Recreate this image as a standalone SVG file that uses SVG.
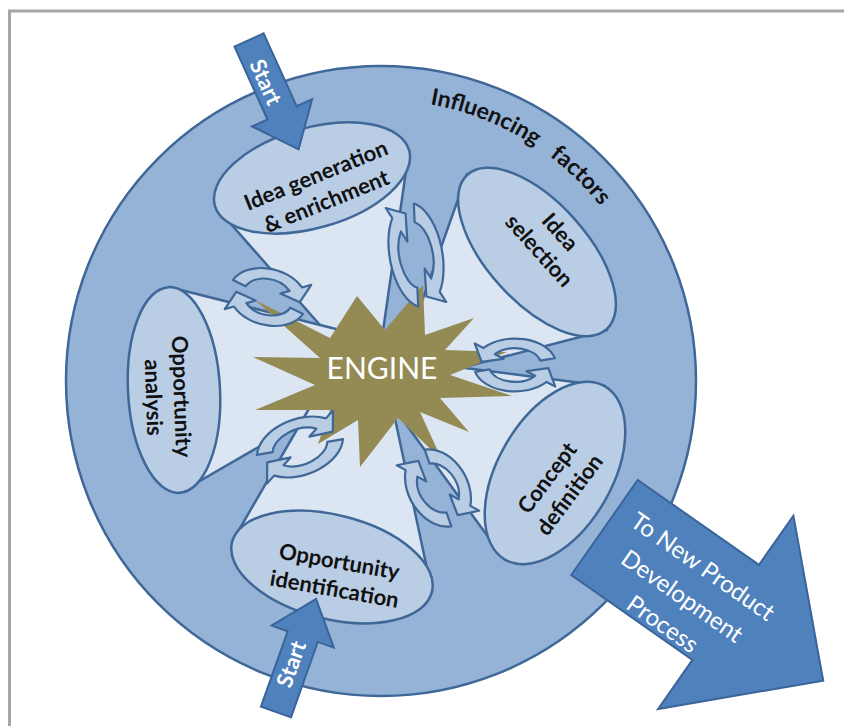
<svg xmlns="http://www.w3.org/2000/svg" xmlns:xlink="http://www.w3.org/1999/xlink" width="844" height="726" viewBox="0 0 844 726">
<style>
.cone{fill:#dce6f2;stroke:#3f6898;stroke-width:2.5;stroke-linejoin:round}
.face{fill:#b9cde5;stroke:#3f6898;stroke-width:2.5}
.lbl{font-family:Lato,"Open Sans","Liberation Sans",sans-serif;font-weight:bold;font-size:22px;fill:#111;text-anchor:middle}
.wt{font-family:Lato,"Open Sans","Liberation Sans",sans-serif;fill:#fff;text-anchor:middle}
.blk{fill:#4f81bd;stroke:#3a649a;stroke-width:2;stroke-linejoin:miter}
.ring{fill:#b9cde5;stroke:#3f6898;stroke-width:2.2;stroke-linejoin:round}
</style>
<defs>
<g id="ca">
<path class="ring" vector-effect="non-scaling-stroke" d="M-31.9,-8.5 A33,33 0 0 1 25.3,-21.2 L32.2,-27 L26.7,-3.8 L9.2,-7.7 L16.1,-13.5 A21,21 0 0 0 -20.3,-5.4 Z"/>
<path class="ring" vector-effect="non-scaling-stroke" transform="rotate(180)" d="M-31.9,-8.5 A33,33 0 0 1 25.3,-21.2 L32.2,-27 L26.7,-3.8 L9.2,-7.7 L16.1,-13.5 A21,21 0 0 0 -20.3,-5.4 Z"/>
</g>
<path id="arcText" d="M332.4,104.3 A280,280 0 0 1 656.7,331.4"/>
</defs>
<rect width="844" height="726" fill="#fff"/>
<g id="frame" stroke="#a6a6a6" stroke-width="3" fill="none">
<line x1="8" y1="11" x2="844" y2="11"/>
<line x1="9.5" y1="10" x2="9.5" y2="726"/>
</g>
<g id="influencing-factors">
<circle cx="381" cy="381" r="315" fill="#95b3d7" stroke="#3f6898" stroke-width="2.5"/>
<text class="lbl" style="text-anchor:start;font-size:23px" word-spacing="12"><textPath xlink:href="#arcText" href="#arcText" startOffset="98">Influencing factors</textPath></text>
</g>
<g id="cones">
<path class="cone" d="M215,206 L342,350 Q362,356 382,338 L409,150 Z"/>
<path class="cone" d="M467,174 L410,335 Q420,365 445,372 L607,330 Z"/>
<path class="cone" d="M169,287 L340,330 Q352,365 340,400 L179,493 Z"/>
<path class="cone" d="M505,560 L392,405 Q395,375 418,362 L605,386 Z"/>
<path class="cone" d="M232,542 L314,400 Q352,390 391,400 L432,592 Z"/>
</g>
<g id="idea-generation">
<ellipse class="face" cx="312" cy="178" rx="101" ry="50" transform="rotate(-16 312 178)"/>
<g transform="translate(321,188) rotate(-22)">
<text class="lbl" x="0" y="-6">Idea generation</text>
<text class="lbl" x="0" y="22">&amp; enrichment</text>
</g>
</g>
<g id="idea-selection">
<ellipse class="face" cx="537" cy="252" rx="104" ry="50" transform="rotate(48 537 252)"/>
<g transform="translate(550,241) rotate(48)">
<text class="lbl" x="0" y="-6">Idea</text>
<text class="lbl" x="0" y="22">selection</text>
</g>
</g>
<g id="opportunity-analysis">
<ellipse class="face" cx="174" cy="390" rx="103" ry="46" transform="rotate(-93 174 390)"/>
<g transform="translate(168,397) rotate(88)">
<text class="lbl" x="0" y="-6">Opportunity</text>
<text class="lbl" x="0" y="22">analysis</text>
</g>
</g>
<g id="concept-definition">
<ellipse class="face" cx="555" cy="473" rx="100" ry="57" transform="rotate(120 555 473)"/>
<g transform="translate(558,486) rotate(-53)">
<text class="lbl" x="0" y="-6">Concept</text>
<text class="lbl" x="0" y="22">definition</text>
</g>
</g>
<g id="opportunity-identification">
<ellipse class="face" cx="332" cy="567" rx="103" ry="52" transform="rotate(14 332 567)"/>
<g transform="translate(337,575) rotate(10)">
<text class="lbl" x="0" y="-6">Opportunity</text>
<text class="lbl" x="0" y="22">identification</text>
</g>
</g>
<g id="engine">
<polygon fill="#948a54" points="255,300 330,338 357,296 385,330 423,285 425,335 474,318 445,350 507,352 450,375 512,396 440,398 469,432 420,412 442,460 398,418 360,467 358,420 318,444 330,410 255,410 315,385 253,357 320,358"/>
<text class="wt" x="382" y="379" font-size="30">ENGINE</text>
</g>
<g id="connectors">
<use xlink:href="#ca" href="#ca" transform="translate(268,297) rotate(15) scale(1.2,0.85)"/>
<use xlink:href="#ca" href="#ca" transform="translate(416,255) rotate(80) scale(1.6,0.8)"/>
<use xlink:href="#ca" href="#ca" transform="translate(515,365) scale(-1.25,0.8)"/>
<use xlink:href="#ca" href="#ca" transform="translate(438,488) rotate(60) scale(1.25,0.9)"/>
<use xlink:href="#ca" href="#ca" transform="translate(300,447) rotate(-20) scale(1.35,0.85)"/>
</g>
<g id="start-top">
<polygon class="blk" transform="translate(249,40) rotate(-24.4)" points="-16,0 16,0 16,80 33,80 0,120 -33,80 -16,80"/>
<text class="wt" font-size="22" font-weight="bold" transform="translate(266,82) rotate(65.6)" y="8">Start</text>
</g>
<g id="start-bottom">
<polygon class="blk" transform="translate(276,712) rotate(-160.5)" points="-16,0 16,0 16,80 33,80 0,120 -33,80 -16,80"/>
<text class="wt" font-size="22" font-weight="bold" transform="translate(291,664) rotate(-70.4)" y="8">Start</text>
</g>
<g id="to-npd">
<polygon class="blk" transform="translate(604.5,527.5) rotate(35)" points="0,-58 148,-58 148,-118 267,0 148,118 148,58 0,58"/>
<g transform="translate(604.5,527.5) rotate(35)">
<text class="wt" font-size="24" x="103" y="-16">To New Product</text>
<text class="wt" font-size="24" x="103" y="20">Development</text>
<text class="wt" font-size="24" x="103" y="54">Process</text>
</g>
</g>
</svg>
